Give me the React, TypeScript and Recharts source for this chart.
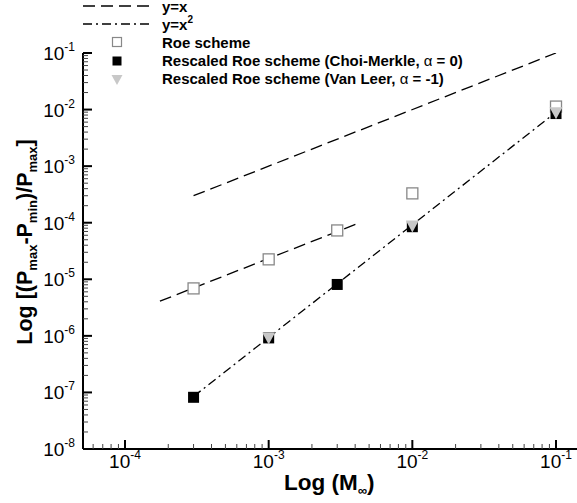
import React from 'react';
import { ComposedChart, Scatter, XAxis, YAxis } from 'recharts';

const machNumbers = [3e-4, 1e-3, 3e-3, 1e-2, 1e-1];
const roeValues = [6.9e-6, 2.25e-5, 7.3e-5, 3.3e-4, 1.13e-2];
const choiMerkleValues = [8.2e-8, 9.2e-7, 8.1e-6, 8.5e-5, 8.5e-3];
const vanLeerMach = [1e-3, 1e-2, 1e-1];
const vanLeerValues = [9.0e-7, 8.6e-5, 8.6e-3];

const lineYeqX = [
  { x: 3e-4, y: 3e-4 },
  { x: 1e-1, y: 1e-1 },
];
const lineYeqX2 = [
  { x: 3e-4, y: 8.5e-8 },
  { x: 1e-1, y: 9.0e-3 },
];
const roeFitLine = [
  { x: 1.75e-4, y: 4.1e-6 },
  { x: 4.3e-3, y: 1.0e-4 },
];

const xDecades = [1e-4, 1e-3, 1e-2, 1e-1];
const xMinorFirst = [6e-5, 7e-5, 8e-5, 9e-5];
const yDecades = [1e-8, 1e-7, 1e-6, 1e-5, 1e-4, 1e-3, 1e-2, 1e-1];
const minorMultipliers = [2, 3, 4, 5, 6, 7, 8, 9];

const xTicks: number[] = [...xMinorFirst];
xDecades.forEach((d, i) => {
  xTicks.push(d);
  if (i < xDecades.length - 1) minorMultipliers.forEach((m) => xTicks.push(m * d));
});
const yTicks: number[] = [];
yDecades.forEach((d, i) => {
  yTicks.push(d);
  if (i < yDecades.length - 1) minorMultipliers.forEach((m) => yTicks.push(m * d));
});

const roeData = machNumbers.map((x, i) => ({ x, y: roeValues[i] }));
const cmData = machNumbers.map((x, i) => ({ x, y: choiMerkleValues[i] }));
const vlData = vanLeerMach.map((x, i) => ({ x, y: vanLeerValues[i] }));

const FONT = 'Liberation Sans, Arial, Helvetica, sans-serif';

const isMajor = (v: number) => {
  const l = Math.log10(v);
  return Math.abs(l - Math.round(l)) < 1e-6;
};
const expOf = (v: number) => Math.round(Math.log10(v));

const XTick = (props: any) => {
  const { x, y, payload } = props;
  const v = payload.value;
  const major = isMajor(v);
  return (
    <g>
      <line x1={x} x2={x} y1={y} y2={y - (major ? 9 : 5)} stroke={major ? '#000' : '#444'} strokeWidth={major ? 2 : 1} />
      {major && (
        <text x={x} y={y + 19} textAnchor="middle" fontFamily={FONT} fontSize={19} fill="#000">
          10
          <tspan fontSize={12} dy={-9}>{String(expOf(v))}</tspan>
        </text>
      )}
    </g>
  );
};

const YTick = (props: any) => {
  const { x, y, payload } = props;
  const v = payload.value;
  const major = isMajor(v);
  return (
    <g>
      <line x1={x} x2={x + (major ? 9 : 5)} y1={y} y2={y} stroke={major ? '#000' : '#444'} strokeWidth={major ? 2 : 1} />
      {major && (
        <text x={x - 8} y={y + 7} textAnchor="end" fontFamily={FONT} fontSize={19} fill="#000">
          10
          <tspan fontSize={12} dy={-9}>{String(expOf(v))}</tspan>
        </text>
      )}
    </g>
  );
};

const emptyShape = () => <g />;
const openSquare = (p: any) => (
  <rect x={p.cx - 5.5} y={p.cy - 5.5} width={11} height={11} fill="#fff" stroke="#888" strokeWidth={1.3} />
);
const filledSquare = (p: any) => (
  <rect x={p.cx - 5.5} y={p.cy - 5.5} width={11} height={11} fill="#000" />
);
const grayTriangle = (p: any) => (
  <polygon points={`${p.cx - 6.5},${p.cy - 6} ${p.cx + 6.5},${p.cy - 6} ${p.cx},${p.cy + 6}`} fill="#c8c8c8" />
);

const DASH = '12 6';
const DASHDOT = '9 4 2 4';

export default function App() {
  return (
    <div style={{ position: 'absolute', left: 0, top: 0, width: 577, height: 503, background: '#fff' }}>
      <ComposedChart width={577} height={503} margin={{ top: 53, right: 0, bottom: 24, left: 43 }}>
        <XAxis
          type="number"
          dataKey="x"
          scale="log"
          domain={[5.1e-5, 0.14]}
          allowDataOverflow
          ticks={xTicks}
          interval={0}
          height={30}
          tickSize={0}
          tickMargin={0}
          tickLine={false}
          tick={<XTick />}
          axisLine={{ stroke: '#000', strokeWidth: 2 }}
        />
        <YAxis
          type="number"
          dataKey="y"
          scale="log"
          domain={[1e-8, 1e-1]}
          allowDataOverflow
          ticks={yTicks}
          interval={0}
          width={40}
          tickSize={0}
          tickMargin={0}
          tickLine={false}
          tick={<YTick />}
          axisLine={{ stroke: '#000', strokeWidth: 2 }}
        />
        <Scatter data={lineYeqX} line={{ stroke: '#000', strokeWidth: 1.3, strokeDasharray: DASH }} lineType="joint" shape={emptyShape} isAnimationActive={false} />
        <Scatter data={roeFitLine} line={{ stroke: '#000', strokeWidth: 1.3, strokeDasharray: DASH }} lineType="joint" shape={emptyShape} isAnimationActive={false} />
        <Scatter data={lineYeqX2} line={{ stroke: '#000', strokeWidth: 1.3, strokeDasharray: DASHDOT }} lineType="joint" shape={emptyShape} isAnimationActive={false} />
        <Scatter data={roeData} shape={openSquare} isAnimationActive={false} />
        <Scatter data={cmData} shape={filledSquare} isAnimationActive={false} />
        <Scatter data={vlData} shape={grayTriangle} isAnimationActive={false} />
      </ComposedChart>
      <svg width={577} height={503} style={{ position: 'absolute', left: 0, top: 0, pointerEvents: 'none' }}>
        <g fontFamily={FONT} fontSize={15} fontWeight="bold" fill="#000">
          <line x1={83} x2={152} y1={6} y2={6} stroke="#000" strokeWidth={1.3} strokeDasharray={DASH} />
          <text x={162} y={11.5}>y=x</text>
          <line x1={83} x2={152} y1={24} y2={24} stroke="#000" strokeWidth={1.3} strokeDasharray={DASHDOT} />
          <text x={162} y={29.5}>
            y=x<tspan fontSize={10} dy={-7}>2</tspan>
          </text>
          <rect x={112.5} y={37.5} width={9} height={9} fill="#fff" stroke="#888" strokeWidth={1.2} />
          <text x={162} y={47.5}>Roe scheme</text>
          <rect x={112.5} y={56.5} width={9} height={9} fill="#000" />
          <text x={162} y={66}>
            Rescaled Roe scheme (Choi-Merkle, <tspan fontWeight="normal">α</tspan> = 0)
          </text>
          <polygon points="111.5,75 122.5,75 117,85" fill="#c8c8c8" />
          <text x={162} y={84}>
            Rescaled Roe scheme (Van Leer, <tspan fontWeight="normal">α</tspan> = -1)
          </text>
        </g>
        <text x={284} y={490} fontFamily={FONT} fontSize={22.5} fontWeight="bold" fill="#000">
          Log (M<tspan fontSize={13} dy={5}>∞</tspan>
          <tspan dy={-5}>)</tspan>
        </text>
        <text
          transform="translate(32,242) rotate(-90)"
          textAnchor="middle"
          fontFamily={FONT}
          fontSize={21.5}
          fontWeight="bold"
          fill="#000"
        >
          Log [(P<tspan fontSize={13} dy={5}>max</tspan>
          <tspan dy={-5}>-P</tspan>
          <tspan fontSize={13} dy={5}>min</tspan>
          <tspan dy={-5}>)/P</tspan>
          <tspan fontSize={13} dy={5}>max</tspan>
          <tspan dy={-5}>]</tspan>
        </text>
      </svg>
    </div>
  );
}
